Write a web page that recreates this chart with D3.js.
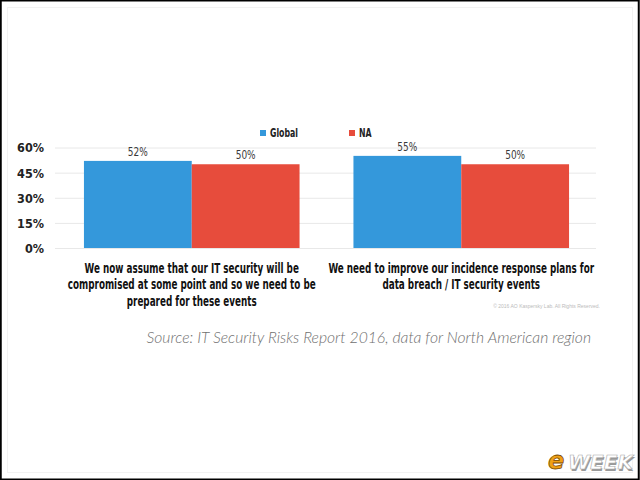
<!DOCTYPE html>
<html>
<head>
<meta charset="utf-8">
<script src="https://cdn.jsdelivr.net/npm/d3@7"></script>
<style>
  body { margin: 0; background: #fff; }
  svg { display: block; }
  .cond { font-family: "Liberation Sans Narrow", "DejaVu Sans Condensed", sans-serif; }
</style>
</head>
<body>
<div class="chart"></div>
<script>
// chart data
var categories = ["assume", "improve"];
var categoryLines = [
    ["We now assume that our IT security will be", "compromised at some point and so we need to be", "prepared for these events"],
    ["We need to improve our incidence response plans for", "data breach / IT security events"]
];
var series = ["Global", "NA"];
var globalValues = [52, 55];
var naValues = [50, 50];
var yTicks = [0, 15, 30, 45, 60];
var colors = ["#3498db", "#e74c3c"];

var width = 640, height = 480;

var svg = d3.select(".chart").append("svg")
    .attr("width", width)
    .attr("height", height);

svg.append("rect")
    .attr("width", width).attr("height", height)
    .attr("fill", "#fff");

// faint inner frame
svg.append("rect")
    .attr("x", 7.5).attr("y", 7.5)
    .attr("width", 625).attr("height", 465)
    .attr("fill", "none").attr("stroke", "#f2f2f2");

// squeeze factor so the fallback font looks like a condensed face
function squeezeFor(text, size, weight, target) {
    var t = svg.append("text").attr("class", "cond")
        .style("font-size", size + "px").style("font-weight", weight)
        .text(text);
    var w = t.node().getComputedTextLength();
    t.remove();
    return Math.min(1, target / w);
}

var catSx = squeezeFor(categoryLines[0][1], 14, "bold", 248);
var valSx = squeezeFor("52%", 12, "normal", 20);
var legSx = squeezeFor("Global", 12, "bold", 28);

var y = d3.scaleLinear().domain([0, 60]).range([248, 147.5]);

var x0 = d3.scaleBand()
    .domain(categories)
    .range([57, 596])
    .paddingInner(0.2)
    .paddingOuter(0.1);

var x1 = d3.scaleBand()
    .domain(series)
    .range([0, x0.bandwidth()]);

// y axis with gridlines
var yAxis = svg.append("g")
    .attr("transform", "translate(55,0)")
    .call(d3.axisLeft(y).tickValues(yTicks).tickSize(-541).tickFormat(function(d) { return d + "%"; }));

yAxis.select(".domain").remove();
yAxis.selectAll(".tick line").attr("stroke", "#e8e8e8");
yAxis.selectAll(".tick text")
    .attr("class", "cond")
    .attr("x", -11)
    .attr("dy", "0.35em")
    .style("font-size", "12.5px")
    .style("font-weight", "bold")
    .attr("fill", "#222");

// bars
var rows = categories.map(function(c, i) {
    return { cat: c, values: [globalValues[i], naValues[i]] };
});

var group = svg.selectAll(".group")
    .data(rows)
    .enter().append("g")
    .attr("class", "group")
    .attr("transform", function(d) { return "translate(" + x0(d.cat) + ",0)"; });

group.selectAll("rect")
    .data(function(d) { return d.values.map(function(v, j) { return { s: series[j], v: v, j: j }; }); })
    .enter().append("rect")
    .attr("x", function(d) { return x1(d.s); })
    .attr("width", x1.bandwidth())
    .attr("y", function(d) { return y(d.v); })
    .attr("height", function(d) { return y(0) - y(d.v); })
    .attr("fill", function(d) { return colors[d.j]; });

group.selectAll(".val")
    .data(function(d) { return d.values.map(function(v, j) { return { s: series[j], v: v }; }); })
    .enter().append("g")
    .attr("class", "val")
    .attr("transform", function(d) {
        return "translate(" + (x1(d.s) + x1.bandwidth() / 2) + "," + (y(d.v) - 5) + ") scale(" + valSx + ",1)";
    })
    .append("text")
    .attr("class", "cond")
    .attr("text-anchor", "middle")
    .style("font-size", "12px")
    .attr("fill", "#3a3a3a")
    .text(function(d) { return d.v + "%"; });

// category labels
var labels = svg.selectAll(".catlabel")
    .data(categories)
    .enter().append("g")
    .attr("class", "catlabel")
    .attr("transform", function(d) { return "translate(" + (x0(d) + x0.bandwidth() / 2) + ",0) scale(" + catSx + ",1)"; })
    .append("text")
    .attr("class", "cond")
    .attr("text-anchor", "middle")
    .style("font-size", "14px")
    .style("font-weight", "bold")
    .attr("fill", "#111");

labels.each(function(d, i) {
    d3.select(this).selectAll("tspan")
        .data(categoryLines[i])
        .enter().append("tspan")
        .attr("x", 0)
        .attr("y", function(l, k) { return 273 + k * 16.5; })
        .text(function(l) { return l; });
});

// legend
var legend = svg.selectAll(".legend")
    .data(series)
    .enter().append("g")
    .attr("class", "legend")
    .attr("transform", function(d, i) { return "translate(" + [260, 349][i] + ",130)"; });

legend.append("rect")
    .attr("width", 6).attr("height", 6)
    .attr("fill", function(d, i) { return colors[i]; });

legend.append("g")
    .attr("transform", "translate(10,6.5) scale(" + legSx + ",1)")
    .append("text")
    .attr("class", "cond")
    .style("font-size", "12px")
    .style("font-weight", "bold")
    .attr("fill", "#222")
    .text(function(d) { return d; });

// copyright
svg.append("text")
    .attr("x", 600).attr("y", 308)
    .attr("text-anchor", "end")
    .style("font-family", "Liberation Sans, sans-serif")
    .style("font-size", "5px")
    .attr("fill", "#bbb")
    .text("\u00a9 2016 AO Kaspersky Lab. All Rights Reserved.");

// source line
svg.append("text")
    .attr("x", 591).attr("y", 343)
    .attr("text-anchor", "end")
    .style("font-family", "Lato, 'Open Sans', sans-serif")
    .style("font-style", "italic")
    .style("font-weight", "300")
    .style("font-size", "15.7px")
    .attr("fill", "#6f6f6f")
    .text("Source: IT Security Risks Report 2016, data for North American region");

// eWEEK logo
var logo = svg.append("g").attr("transform", "translate(548,469)");
logo.append("text")
    .attr("x", 21).attr("y", 1.5)
    .style("font-family", "'DejaVu Sans', sans-serif")
    .style("font-weight", "bold").style("font-style", "italic")
    .style("font-size", "20px")
    .attr("fill", "#999")
    .text("WEEK");
logo.append("text")
    .attr("x", 20).attr("y", 0)
    .style("font-family", "'DejaVu Sans', sans-serif")
    .style("font-weight", "bold").style("font-style", "italic")
    .style("font-size", "20px")
    .attr("fill", "#fff")
    .attr("stroke", "#aaa").attr("stroke-width", 0.6)
    .text("WEEK");
logo.append("text")
    .attr("x", 0).attr("y", 0)
    .style("font-family", "'DejaVu Sans', sans-serif")
    .style("font-weight", "bold").style("font-style", "italic")
    .style("font-size", "24px")
    .attr("fill", "#f0a016")
    .attr("stroke", "#7a4a00").attr("stroke-width", 0.8)
    .text("e");

// outer black border
svg.append("rect")
    .attr("x", 0.75).attr("y", 0.5)
    .attr("width", 638).attr("height", 479)
    .attr("fill", "none").attr("stroke", "#000").attr("stroke-width", 2);
</script>
</body>
</html>
